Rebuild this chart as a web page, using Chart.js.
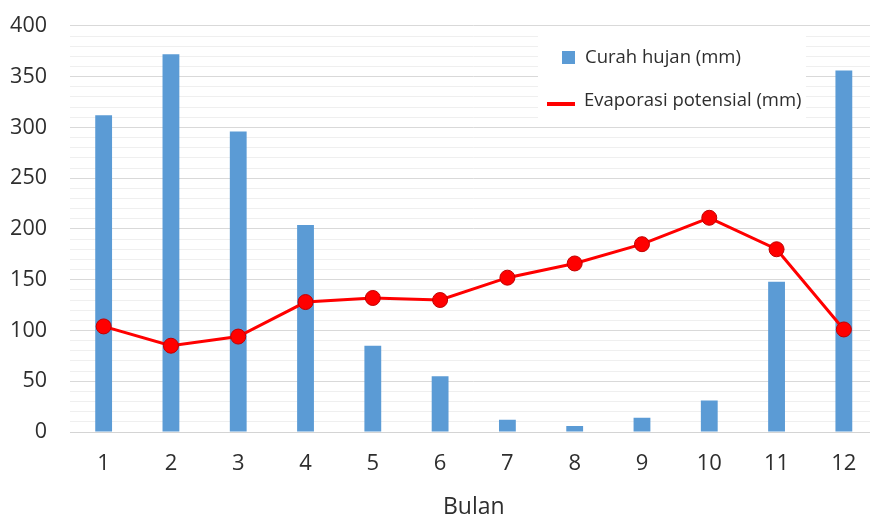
<!DOCTYPE html>
<html>
<head>
<meta charset="utf-8">
<script src="https://cdn.jsdelivr.net/npm/chart.js@4/dist/chart.umd.min.js"></script>
<style>
  html, body { margin: 0; padding: 0; background: #fff; overflow: hidden; }
  #wrap { width: 886px; height: 516px; overflow: hidden; }
  #c { display: block; margin-top: -10px; }
</style>
</head>
<body>
<div id="wrap"><canvas id="c" width="886" height="526"></canvas></div>
<script>
// Monthly rainfall vs. potential evaporation
const months = ['1','2','3','4','5','6','7','8','9','10','11','12'];
const curahHujan = [312, 372, 296, 204, 85, 55, 12, 6, 14, 31, 148, 356];
const evaporasi = [104, 85, 94, 128, 132, 130, 152, 166, 185, 211, 180, 101];
const seriesLabels = ['Curah hujan (mm)', 'Evaporasi potensial (mm)'];
const axisTitleX = 'Bulan';

const FONT = "'Open Sans', 'Noto Sans', sans-serif";
const TEXT = '#2e2e2e';
const BLUE = '#5b9bd5';
const RED = '#ff0000';
const SHIFT = 10; // canvas is raised by this many pixels

// Legend box drawn inside the plot area, top right
const boxLegend = {
  id: 'boxLegend',
  afterDatasetsDraw(chart) {
    const ctx = chart.ctx;
    const bars = chart.data.datasets.find(d => d.type === 'bar');
    const line = chart.data.datasets.find(d => d.type === 'line');
    ctx.save();
    ctx.translate(0, SHIFT);
    ctx.fillStyle = '#ffffff';
    ctx.fillRect(538, 34, 268, 90);
    ctx.font = '18.5px ' + FONT;
    ctx.textBaseline = 'middle';
    ctx.textAlign = 'left';
    // bar series swatch
    ctx.fillStyle = bars.backgroundColor;
    ctx.fillRect(562, 51, 13, 13);
    ctx.fillStyle = TEXT;
    ctx.fillText(bars.label, 585, 58);
    // line series swatch
    ctx.strokeStyle = line.borderColor;
    ctx.lineWidth = 4;
    ctx.beginPath();
    ctx.moveTo(547, 104);
    ctx.lineTo(575, 104);
    ctx.stroke();
    ctx.fillText(line.label, 584, 101);
    ctx.restore();
  }
};

new Chart(document.getElementById('c'), {
  data: {
    labels: months,
    datasets: [
      {
        type: 'line',
        label: seriesLabels[1],
        data: evaporasi,
        borderColor: RED,
        borderWidth: 3,
        pointRadius: 7.5,
        pointBackgroundColor: RED,
        pointBorderColor: '#c00000',
        pointBorderWidth: 1,
        tension: 0,
        order: 0
      },
      {
        type: 'bar',
        label: seriesLabels[0],
        data: curahHujan,
        backgroundColor: BLUE,
        barPercentage: 0.5,
        categoryPercentage: 0.5,
        order: 1
      }
    ]
  },
  options: {
    responsive: false,
    animation: false,
    layout: { padding: { top: 4, left: 0, right: 1, bottom: 0 } },
    plugins: {
      legend: { display: false },
      tooltip: { enabled: false }
    },
    scales: {
      x: {
        grid: { display: false, drawTicks: false },
        border: { display: true, color: '#d4d4d4', width: 1 },
        ticks: { color: TEXT, font: { family: FONT, size: 22 }, padding: 19 },
        title: {
          display: true,
          text: axisTitleX,
          color: TEXT,
          font: { family: FONT, size: 23 },
          padding: { top: 16, bottom: -5 }
        },
        afterFit(scale) { scale.height = 84; }
      },
      y: {
        min: 0,
        max: 400,
        border: { display: false },
        grid: {
          drawTicks: false,
          color: (c) => (c.tick && c.tick.value % 50 === 0) ? '#d9d9d9' : '#efefef',
          lineWidth: 1
        },
        ticks: {
          stepSize: 10,
          autoSkip: false,
          color: TEXT,
          font: { family: FONT, size: 21.5 },
          padding: 23,
          callback: (v) => (v % 50 === 0 ? String(v) : '')
        },
        afterFit(scale) { scale.width = 70; }
      }
    }
  },
  plugins: [boxLegend]
});
</script>
</body>
</html>
